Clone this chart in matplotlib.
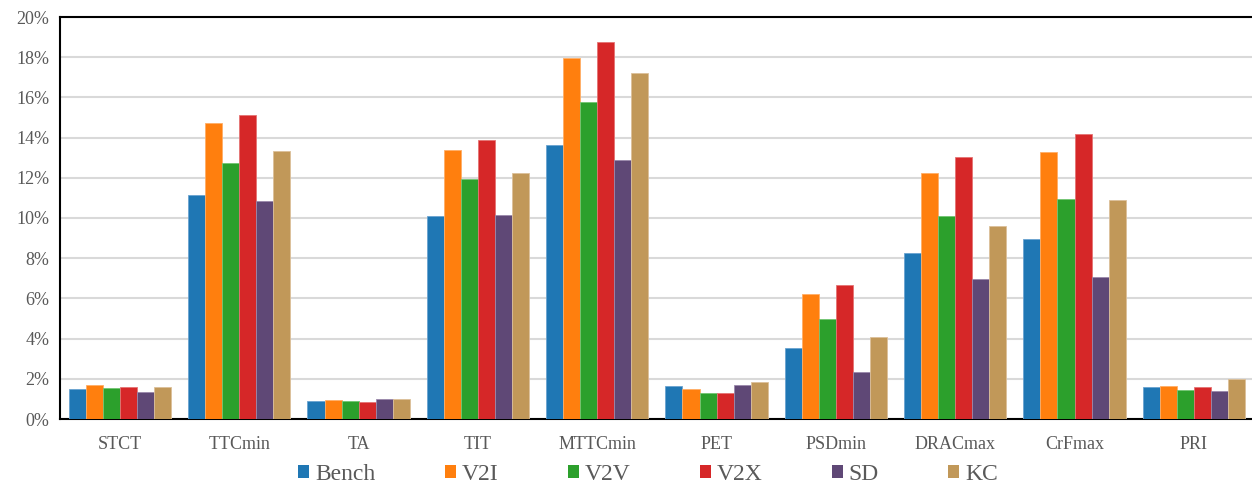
import matplotlib
matplotlib.use("Agg")
import matplotlib.pyplot as plt
import numpy as np
from matplotlib.ticker import FuncFormatter

categories = ["STCT", "TTCmin", "TA", "TIT", "MTTCmin", "PET", "PSDmin", "DRACmax", "CrFmax", "PRI"]
series_names = ["Bench", "V2I", "V2V", "V2X", "SD", "KC"]

bench = [1.48, 11.13, 0.88, 10.12, 13.62, 1.64, 3.55, 8.24, 8.94, 1.59]
v2i   = [1.71, 14.75, 0.95, 13.37, 17.94, 1.51, 6.21, 12.23, 13.29, 1.63]
v2v   = [1.56, 12.74, 0.91, 11.93, 15.78, 1.31, 4.97, 10.12, 10.96, 1.45]
v2x   = [1.61, 15.13, 0.86, 13.87, 18.75, 1.28, 6.68, 13.02, 14.19, 1.58]
sd    = [1.35, 10.83, 0.98, 10.15, 12.91, 1.68, 2.36, 6.99, 7.06, 1.40]
kc    = [1.59, 13.32, 0.98, 12.23, 17.21, 1.84, 4.09, 9.62, 10.88, 2.01]

colors = ["#1f77b4", "#ff7f0e", "#2ca02c", "#d62728", "#5f4876", "#c19859"]
edge_colors = ["#6aa3d0", "#ffae66", "#72c572", "#e57373", "#9a88ab", "#dcc09a"]

plt.rcParams['font.family'] = ['Liberation Serif', 'DejaVu Serif']

fig = plt.figure(figsize=(12.52, 4.84), dpi=100)
ax = fig.add_axes([60.3 / 1252, 1 - 419 / 484, (1253.5 - 60.3) / 1252, (419 - 17) / 484])

data = [bench, v2i, v2v, v2x, sd, kc]
x = np.arange(len(categories))
group_w = 0.857
bw = group_w / len(series_names)
for i, (name, vals) in enumerate(zip(series_names, data)):
    offs = -group_w / 2 + bw * (i + 0.5)
    ax.bar(x + offs, vals, width=bw, color=colors[i], edgecolor=edge_colors[i],
           linewidth=0.6, label=name, zorder=3)

ax.set_xlim(-0.5, len(categories) - 0.5)
ax.set_ylim(0, 20)
ax.set_yticks(np.arange(0, 21, 2))
ax.yaxis.set_major_formatter(FuncFormatter(lambda v, p: f"{int(round(v))}%"))
ax.set_xticks(x)
ax.set_xticklabels(categories)
ax.grid(axis='y', color='#d9d9d9', linewidth=1.5, zorder=0)
ax.set_axisbelow(True)

for s in ['left', 'top', 'bottom']:
    ax.spines[s].set_color('black')
    ax.spines[s].set_linewidth(1.5)
ax.spines['right'].set_visible(False)

ax.tick_params(axis='both', length=0, labelsize=13, labelcolor='#595959')
ax.tick_params(axis='x', pad=12)
ax.tick_params(axis='y', pad=8)

leg = fig.legend(loc='center', bbox_to_anchor=(648 / 1252, 1 - 474 / 484), ncol=6,
                 frameon=False, fontsize=17, handlelength=0.47, handleheight=0.47,
                 handletextpad=0.25, columnspacing=2.93, borderaxespad=0, borderpad=0)
for t in leg.get_texts():
    t.set_color('#595959')
for h in leg.legend_handles:
    h.set_edgecolor('none')

fig.savefig("out.png", dpi=100)
